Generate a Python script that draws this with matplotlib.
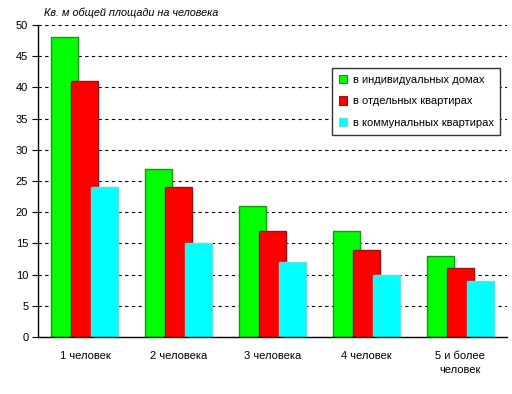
import matplotlib
matplotlib.use("Agg")
import matplotlib.pyplot as plt
from matplotlib.patches import Patch
import numpy as np

categories = ["1 человек", "2 человека", "3 человека", "4 человек", "5 и более\nчеловек"]
series_names = ["в индивидуальных домах", "в отдельных квартирах", "в коммунальных квартирах"]
individual = [48, 27, 21, 17, 13]
separate = [41, 24, 17, 14, 11]
communal = [24, 15, 12, 10, 9]
y_ticks = [0, 5, 10, 15, 20, 25, 30, 35, 40, 45, 50]
title = "Кв. м общей площади на человека"

plt.rcParams['font.family'] = ['Liberation Sans', 'DejaVu Sans']

fig = plt.figure(figsize=(5.12, 3.94), dpi=100)
ax = fig.add_axes([38/512, 57/394, (507-38)/512, (337-25)/394])

x = np.arange(len(categories))
step = 0.213
width = 0.288
faces = ["#00ff00", "#ff0000", "#00ffff"]
edges = ["#119911", "#991111", "#66dddd"]
for k, vals in enumerate([individual, separate, communal]):
    ax.bar(x + (k - 1) * step, vals, width=width, color=faces[k],
           edgecolor=edges[k], linewidth=1.0, zorder=3 + k)

ax.set_xlim(-0.5, len(categories) - 0.5)
ax.set_ylim(0, 50)
ax.set_yticks(y_ticks)
ax.set_yticklabels([str(v) for v in y_ticks], fontsize=8)
ax.set_xticks(x)
ax.set_xticklabels(categories, fontsize=8, linespacing=1.5)
ax.tick_params(axis='x', length=0, pad=10)
ax.tick_params(axis='y', length=4, width=0.8, pad=3)
ax.grid(axis='y', color='black', linestyle=(0, (3, 3)), linewidth=0.8, zorder=1)
for s in ['top', 'right']:
    ax.spines[s].set_visible(False)
for s in ['left', 'bottom']:
    ax.spines[s].set_color('black')
    ax.spines[s].set_linewidth(1.0)
ax.spines['bottom'].set_zorder(10)

fig.text(44/512, 1 - 13/394, title, fontsize=7.8, style='italic', va='center', ha='left')

handles = [Patch(facecolor=faces[k], edgecolor=edges[k], linewidth=0.8) for k in range(3)]
leg = fig.legend(handles, series_names, loc='upper left',
                 bbox_to_anchor=(332/512, 1 - 68/394), fontsize=8,
                 frameon=True, fancybox=False, framealpha=1, edgecolor='#333333',
                 handlelength=0.75, handleheight=0.75, handletextpad=0.5,
                 labelspacing=1.05, borderpad=0.6, borderaxespad=0)
leg.get_frame().set_linewidth(1.0)

fig.savefig("out.png", dpi=100)
